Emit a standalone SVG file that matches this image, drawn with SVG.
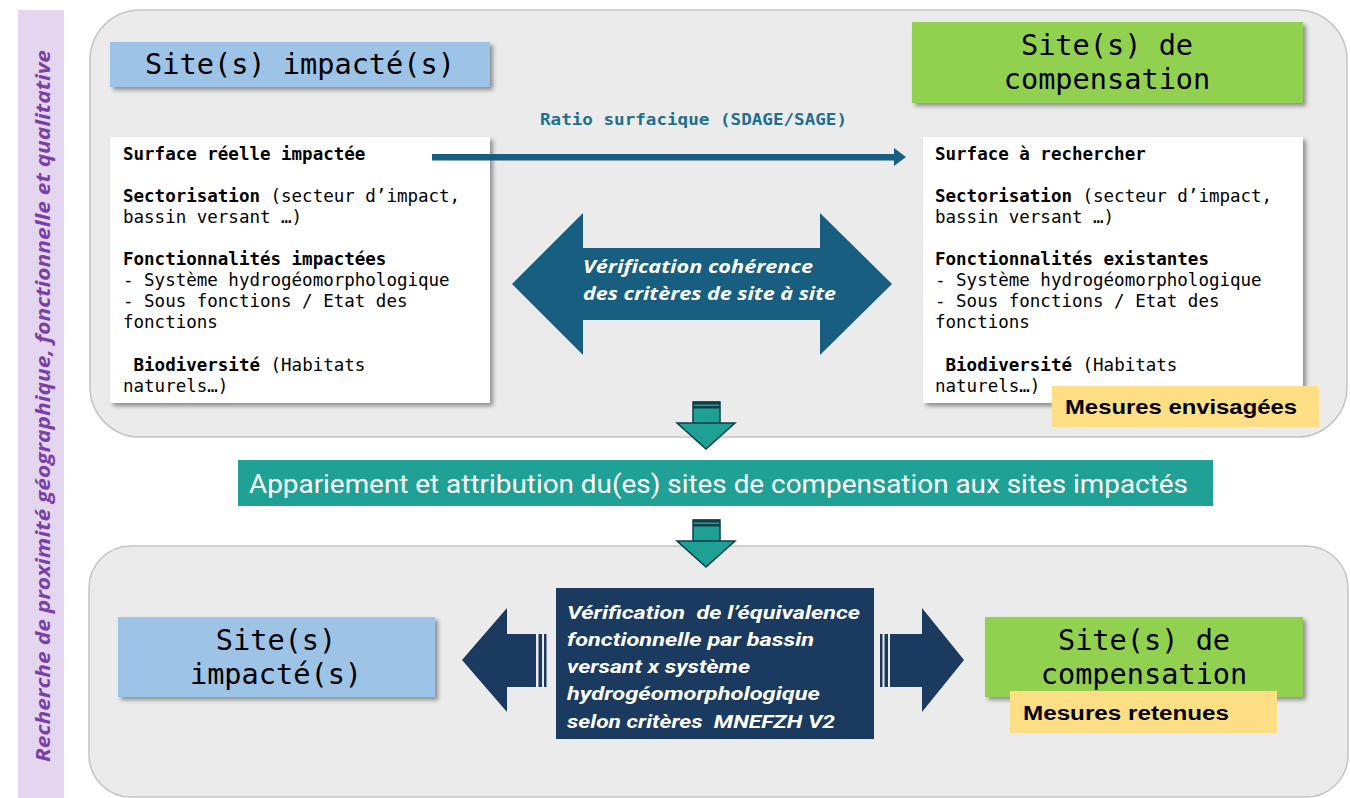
<svg xmlns="http://www.w3.org/2000/svg" width="1350" height="798" viewBox="0 0 1350 798">
  <style>
    .panel { fill: #ebebeb; stroke: #c4c4c4; stroke-width: 1.5; }
    .mono { font-family: "DejaVu Sans Mono", "Liberation Mono", monospace; fill: #000; }
    .head { font-size: 28.6px; text-anchor: middle; }
    .body { font-size: 17.5px; }
    .b { font-weight: bold; }
    .note { font-family: "Liberation Sans", Arial, sans-serif; font-weight: bold; fill: #000; }
    .white-it { font-family: "Open Sans", "Liberation Sans", sans-serif; font-weight: bold; font-style: italic; fill: #fff; font-size: 17px; }
    .navy-it { font-family: Roboto, "Liberation Sans", sans-serif; font-weight: bold; font-style: italic; fill: #fff; font-size: 19px; }
    .teal-arrow { fill: #1fa095; stroke: #0f3d48; stroke-width: 1.5; stroke-linejoin: miter; }
    .stripe-dark { fill: #0f3d48; }
    .navy { fill: #1a3a5f; }
  </style>
  <defs>
    <filter id="shadow" x="-10%" y="-10%" width="120%" height="130%">
      <feDropShadow dx="3" dy="3" stdDeviation="2" flood-color="#000" flood-opacity="0.4"/>
    </filter>
  </defs>

  <rect width="1350" height="798" fill="#ffffff"/>

  <!-- side label -->
  <g id="side-label">
    <rect x="18" y="10" width="46" height="790" fill="#e3d6ee"/>
    <text transform="translate(50,762) rotate(-90)" font-family="'Open Sans', 'Liberation Sans', sans-serif" font-weight="bold" font-style="italic" font-size="20" fill="#7a3fa8" textLength="712" lengthAdjust="spacingAndGlyphs">Recherche de proximité géographique, fonctionnelle et qualitative</text>
  </g>

  <!-- background panels -->
  <rect id="panel-top" class="panel" x="90" y="10" width="1257" height="427" rx="50" ry="50"/>
  <rect id="panel-bottom" class="panel" x="89" y="546" width="1259" height="251" rx="42" ry="42"/>

  <!-- upper section -->
  <g id="impacted-header">
    <rect x="110" y="42" width="380" height="45" fill="#9dc3e6" filter="url(#shadow)"/>
    <text class="mono head" x="300" y="74">Site(s) impacté(s)</text>
  </g>

  <g id="compensation-header">
    <rect x="912" y="22" width="391" height="81" fill="#92d050" filter="url(#shadow)"/>
    <text class="mono head" x="1107" y="55">Site(s) de</text>
    <text class="mono head" x="1107" y="89">compensation</text>
  </g>

  <g id="impacted-criteria">
    <rect x="110" y="137" width="380" height="266" fill="#ffffff" filter="url(#shadow)"/>
    <text class="mono body" x="123" y="160"><tspan class="b">Surface réelle impactée</tspan></text>
    <text class="mono body" x="123" y="202"><tspan class="b">Sectorisation</tspan> (secteur d’impact,</text>
    <text class="mono body" x="123" y="223">bassin versant …)</text>
    <text class="mono body" x="123" y="265"><tspan class="b">Fonctionnalités impactées</tspan></text>
    <text class="mono body" x="123" y="286">- Système hydrogéomorphologique</text>
    <text class="mono body" x="123" y="307">- Sous fonctions / Etat des</text>
    <text class="mono body" x="123" y="328">fonctions</text>
    <text class="mono body" x="123" y="371" xml:space="preserve"> <tspan class="b">Biodiversité</tspan> (Habitats</text>
    <text class="mono body" x="123" y="392">naturels…)</text>
  </g>

  <g id="compensation-criteria">
    <rect x="923" y="137" width="380" height="266" fill="#ffffff" filter="url(#shadow)"/>
    <text class="mono body" x="935" y="160"><tspan class="b">Surface à rechercher</tspan></text>
    <text class="mono body" x="935" y="202"><tspan class="b">Sectorisation</tspan> (secteur d’impact,</text>
    <text class="mono body" x="935" y="223">bassin versant …)</text>
    <text class="mono body" x="935" y="265"><tspan class="b">Fonctionnalités existantes</tspan></text>
    <text class="mono body" x="935" y="286">- Système hydrogéomorphologique</text>
    <text class="mono body" x="935" y="307">- Sous fonctions / Etat des</text>
    <text class="mono body" x="935" y="328">fonctions</text>
    <text class="mono body" x="935" y="371" xml:space="preserve"> <tspan class="b">Biodiversité</tspan> (Habitats</text>
    <text class="mono body" x="935" y="392">naturels…)</text>
  </g>

  <g id="planned-measures">
    <rect x="1052" y="386" width="267" height="41" fill="#ffdf86"/>
    <text class="note" x="1065" y="414" font-size="21" textLength="232" lengthAdjust="spacingAndGlyphs">Mesures envisagées</text>
  </g>

  <g id="coherence-check">
    <polygon fill="#175e80" points="512,284 583,213 583,248 820,248 820,213 892,284 820,355 820,320 583,320 583,355"/>
    <text class="white-it" x="583" y="273" textLength="230" lengthAdjust="spacingAndGlyphs">Vérification cohérence</text>
    <text class="white-it" x="583" y="300" textLength="253" lengthAdjust="spacingAndGlyphs">des critères de site à site</text>
  </g>

  <!-- middle step -->
  <g id="pairing">
    <rect x="238" y="460" width="975" height="46" fill="#1fa196"/>
    <text x="249" y="493" font-family="Roboto, 'Liberation Sans', sans-serif" font-size="25.5" fill="#ffffff" textLength="939" lengthAdjust="spacingAndGlyphs">Appariement et attribution du(es) sites de compensation aux sites impactés</text>
  </g>

  <!-- lower section -->
  <g id="impacted-result">
    <rect x="118" y="617" width="317" height="80" fill="#9dc3e6" filter="url(#shadow)"/>
    <text class="mono head" x="276" y="650">Site(s)</text>
    <text class="mono head" x="276" y="684">impacté(s)</text>
  </g>

  <g id="equivalence-check">
    <rect x="556" y="588" width="318" height="151" class="navy"/>
    <text class="navy-it" x="567" y="619" textLength="293" lengthAdjust="spacingAndGlyphs" xml:space="preserve">Vérification  de l’équivalence</text>
    <text class="navy-it" x="567" y="646" textLength="247" lengthAdjust="spacingAndGlyphs">fonctionnelle par bassin</text>
    <text class="navy-it" x="567" y="673" textLength="183" lengthAdjust="spacingAndGlyphs">versant x système</text>
    <text class="navy-it" x="567" y="700" textLength="253" lengthAdjust="spacingAndGlyphs">hydrogéomorphologique</text>
    <text class="navy-it" x="567" y="728" textLength="268" lengthAdjust="spacingAndGlyphs" xml:space="preserve">selon critères  MNEFZH V2</text>
  </g>

  <g id="compensation-result">
    <rect x="985" y="617" width="318" height="80" fill="#92d050" filter="url(#shadow)"/>
    <text class="mono head" x="1144" y="650">Site(s) de</text>
    <text class="mono head" x="1144" y="684">compensation</text>
  </g>

  <g id="retained-measures">
    <rect x="1010" y="691" width="267" height="42" fill="#ffdf86"/>
    <text class="note" x="1023" y="720" font-size="20" textLength="206" lengthAdjust="spacingAndGlyphs">Mesures retenues</text>
  </g>

  <!-- connectors -->
  <g id="connectors">
    <!-- area ratio arrow -->
    <text x="540" y="125" font-family="'DejaVu Sans Mono', 'Liberation Mono', monospace" font-weight="bold" font-size="16" fill="#1f6f90" textLength="307" lengthAdjust="spacingAndGlyphs">Ratio surfacique (SDAGE/SAGE)</text>
    <rect x="432" y="154" width="464" height="6.5" fill="#175e80"/>
    <polygon fill="#175e80" points="894,148 906,157 894,166"/>

    <!-- step arrow: upper panel to pairing -->
    <g>
      <rect class="teal-arrow" x="693" y="402" width="27" height="22"/>
      <polygon class="teal-arrow" points="677,423 735,423 706,449"/>
      <rect class="stripe-dark" x="693" y="401.5" width="27" height="3"/>
      <rect class="stripe-dark" x="693" y="406" width="27" height="2.5"/>
    </g>

    <!-- step arrow: pairing to lower panel -->
    <g>
      <rect class="teal-arrow" x="693" y="520" width="27" height="22"/>
      <polygon class="teal-arrow" points="677,541 735,541 706,567"/>
      <rect class="stripe-dark" x="693" y="519.5" width="27" height="3"/>
      <rect class="stripe-dark" x="693" y="524" width="27" height="2.5"/>
    </g>

    <!-- striped arrow towards impacted site(s) -->
    <g class="navy">
      <polygon points="462,660 507,608 507,634 536,634 536,687 507,687 507,712"/>
      <rect x="538.5" y="634" width="3.5" height="53"/>
      <rect x="544" y="634" width="2.5" height="53"/>
    </g>

    <!-- striped arrow towards compensation site(s) -->
    <g class="navy">
      <rect x="880" y="634" width="2.5" height="53"/>
      <rect x="884.5" y="634" width="3.5" height="53"/>
      <polygon points="890,634 922,634 922,608 964,660 922,712 922,687 890,687"/>
    </g>
  </g>
</svg>
